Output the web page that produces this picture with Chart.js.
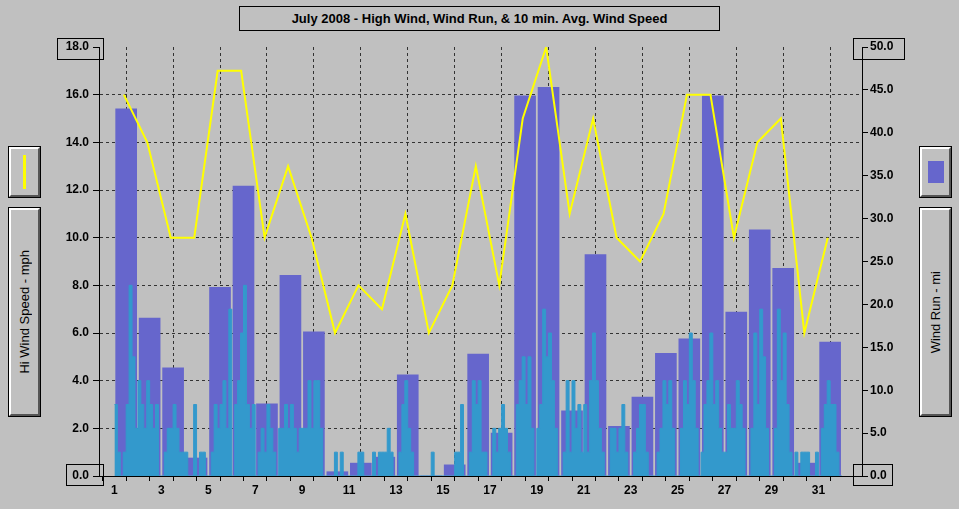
<!DOCTYPE html>
<html><head><meta charset="utf-8">
<script src="https://cdn.jsdelivr.net/npm/chart.js@4/dist/chart.umd.min.js"></script>
<style>
body{margin:0;background:#c0c0c0;font:bold 12px "Liberation Sans",Arial,sans-serif;}
#wrap{position:relative;width:959px;height:509px;}
canvas{position:absolute;left:0;top:0;}
.box{position:absolute;border:1px solid #000;box-sizing:border-box;display:flex;align-items:center;justify-content:center;}
.raised{background:#c0c0c0;border-top:2px solid #fff;border-left:2px solid #fff;border-right:2px solid #555;border-bottom:2px solid #555;outline:1px solid #000;}
.vert{writing-mode:vertical-rl;transform:rotate(180deg);font-weight:normal;font-size:13px;}
</style></head><body>
<div id="wrap">
<canvas id="c" width="959" height="509"></canvas>
<div class="box" style="left:239px;top:6px;width:481px;height:25px;font-size:13px;background:#c0c0c0;">July 2008 - High Wind, Wind Run, &amp; 10 min. Avg. Wind Speed</div>
<div class="box raised" style="left:9px;top:147px;width:31px;height:50px;"><div style="width:3px;height:34px;background:#ffff00"></div></div>
<div class="box raised" style="left:9px;top:208px;width:31px;height:208px;"><span class="vert">Hi Wind Speed - mph</span></div>
<div class="box raised" style="left:920px;top:147px;width:31px;height:50px;"><div style="width:16px;height:22px;background:#6666cc"></div></div>
<div class="box raised" style="left:920px;top:208px;width:31px;height:208px;"><span class="vert">Wind Run - mi</span></div>
<div class="box" style="left:57px;top:38px;width:47px;height:22px;"></div>
<div class="box" style="left:66px;top:464px;width:38px;height:22px;"></div>
<div class="box" style="left:853px;top:38px;width:52px;height:22px;"></div>
<div class="box" style="left:853px;top:464px;width:40px;height:22px;"></div>
</div>
<script>
const days = Array.from({length:31},(_,i)=>i+1);
const hiWind = [16,14,10,10,17,17,10,13,10,6,8,7,11,6,8,13,8,15,18,11,15,10,9,11,16,16,10,14,15,6,10];
const windRun = [42.8,18.4,12.6,2.1,22.0,33.8,8.4,23.4,16.8,0.5,1.5,2.2,11.8,0,1.3,14.2,5.0,44.3,45.3,7.6,25.8,5.8,9.2,14.3,16.0,44.3,19.1,28.7,24.2,1.5,15.6];
const avgSpeed = [
[3,1,0,1,3,8,5,2],[4,3,2,4,3,2,3,0],[0,1,2,2,3,2,1,1],[1,0,0,3,0,1,1,0],
[0,1,3,2,3,4,2,7],[0,3,4,6,8,3,2,3],[0,1,2,1,3,2,1,0],[2,2,3,2,3,2,1,2],
[2,2,4,2,4,4,2,0],[0,0,0,1,0,1,0,0],[0,0,0,1,1,0,0,0],[1,0,1,1,1,2,1,0],
[0,1,3,4,2,1,0,0],[0,0,0,0,1,0,0,0],[0,0,0,0,1,1,3,0],[0,1,4,3,4,1,1,0],
[0,2,1,2,3,2,1,0],[0,3,4,5,3,5,2,0],[2,3,7,5,6,4,2,0],[0,1,4,1,4,2,3,1],
[3,1,4,6,4,2,1,0],[0,2,2,1,2,3,1,0],[0,1,2,3,3,1,0,0],[0,1,2,4,3,4,2,0],
[0,2,4,3,6,4,2,0],[1,3,4,6,3,4,2,1],[1,3,2,2,4,3,2,0],[0,2,6,3,7,5,2,0],
[0,2,7,4,6,3,1,0],[1,0,1,1,1,0,0,1],[0,2,3,4,3,3,1,0]];
const leftTicks = [0,2,4,6,8,10,12,14,16,18];
const rightTicks = [0,5,10,15,20,25,30,35,40,45,50];

const avgPts=[];
days.forEach((d,i)=>avgSpeed[i].forEach((v,k)=>avgPts.push({x:d+k/8,y:v})));
avgPts.push({x:32,y:0});
const font={family:'"Liberation Sans", Arial',size:12,weight:'bold'};
new Chart(document.getElementById('c'),{
 data:{datasets:[
  {type:'line',data:days.map((d,i)=>({x:d+0.4,y:hiWind[i]})),borderColor:'#ffff00',borderWidth:2,pointRadius:0,yAxisID:'y',order:0},
  {type:'line',data:avgPts,stepped:true,borderColor:'#3399cc',backgroundColor:'#3399cc',fill:'origin',borderWidth:1,pointRadius:0,yAxisID:'y',order:1},
  {type:'bar',data:days.map((d,i)=>({x:d+0.5,y:windRun[i]})),backgroundColor:'#6666cc',barThickness:21,yAxisID:'y1',order:2}
 ]},
 options:{responsive:false,animation:false,devicePixelRatio:1,
  layout:{padding:{top:47,left:0,right:0,bottom:0}},
  plugins:{legend:{display:false},tooltip:{enabled:false}},
  scales:{
   x:{type:'linear',min:0.85,max:32.35,afterBuildTicks:s=>{s.ticks=days.concat([32]).map(v=>({value:v}));},
      afterFit:s=>{s.height=33;},
      ticks:{color:'#000',font,autoSkip:false,maxRotation:0,padding:2,callback:v=>v%2===1?String(v):''},
      grid:{color:c=>c.tick&&c.tick.value%2===0?'#333':'rgba(0,0,0,0)',tickColor:'#000',tickLength:5},
      border:{color:'#000',dash:[3,3]}},
   y:{position:'left',min:0,max:18,afterBuildTicks:s=>{s.ticks=leftTicks.map(v=>({value:v}));},
      afterFit:s=>{s.width=99;},
      ticks:{color:'#000',font,padding:4,callback:v=>v.toFixed(1)},
      grid:{color:c=>c.tick&&c.tick.value>0&&c.tick.value<18?'#333':'rgba(0,0,0,0)',tickColor:'#000',tickLength:6},
      border:{color:'#000',dash:[3,3]}},
   y1:{position:'right',min:0,max:50,afterBuildTicks:s=>{s.ticks=rightTicks.map(v=>({value:v}));},
      afterFit:s=>{s.width=97;},
      ticks:{color:'#000',font,padding:2,callback:v=>v.toFixed(1)},
      grid:{drawOnChartArea:false,tickColor:'#000',tickLength:6},border:{color:'#000'}}
  }}
});
</script>
</body></html>
